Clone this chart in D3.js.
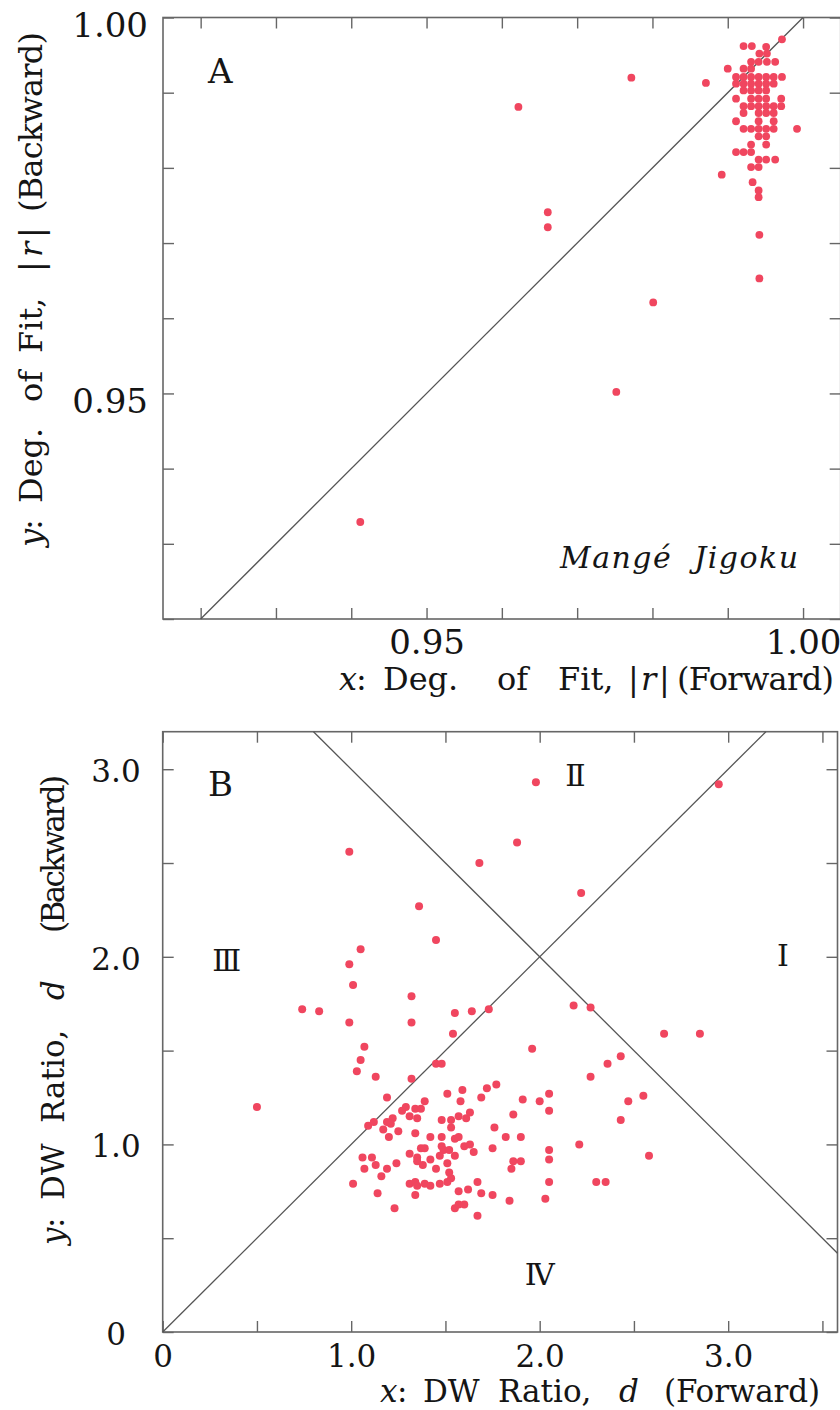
<!DOCTYPE html>
<html>
<head>
<meta charset="utf-8">
<script src="https://cdn.jsdelivr.net/npm/d3@7"></script>
<style>
  body { margin: 0; background: #fff; }
  text { font-family: "DejaVu Serif", "Liberation Serif", serif; fill: #151515; }
</style>
</head>
<body>
<div id="chart"></div>
<script>
// A: degree of fit |r|, forward (x) vs backward (y)
const fitPairs = [
  [0.9972, 0.9971], [0.9921, 0.9962], [0.9932, 0.9962], [0.9951, 0.9961],
  [0.9942, 0.9952], [0.9952, 0.9952],
  [0.9931, 0.9941], [0.9941, 0.9941], [0.9952, 0.9941], [0.9963, 0.9941],
  [0.9900, 0.9932], [0.9921, 0.9932], [0.9931, 0.9932],
  [0.9772, 0.9920], [0.9871, 0.9913],
  [0.9911, 0.9921], [0.9921, 0.9921], [0.9931, 0.9921], [0.9941, 0.9921], [0.9951, 0.9921], [0.9961, 0.9921], [0.9972, 0.9921],
  [0.9911, 0.9912], [0.9921, 0.9912], [0.9931, 0.9912], [0.9941, 0.9912], [0.9951, 0.9912], [0.9961, 0.9912],
  [0.9921, 0.9903], [0.9931, 0.9903], [0.9941, 0.9903], [0.9951, 0.9903],
  [0.9911, 0.9892], [0.9931, 0.9892], [0.9941, 0.9892], [0.9951, 0.9892], [0.9971, 0.9892],
  [0.9921, 0.9882], [0.9931, 0.9882], [0.9941, 0.9882], [0.9951, 0.9882], [0.9961, 0.9882], [0.9971, 0.9882],
  [0.9921, 0.9873], [0.9941, 0.9873], [0.9951, 0.9873], [0.9961, 0.9873],
  [0.9911, 0.9862], [0.9941, 0.9862], [0.9961, 0.9862],
  [0.9921, 0.9852], [0.9931, 0.9852], [0.9941, 0.9852], [0.9951, 0.9852], [0.9961, 0.9852], [0.9992, 0.9852],
  [0.9941, 0.9842], [0.9951, 0.9842],
  [0.9931, 0.9831], [0.9951, 0.9831],
  [0.9911, 0.9821], [0.9921, 0.9821], [0.9931, 0.9821],
  [0.9941, 0.9811], [0.9951, 0.9811], [0.9963, 0.9811],
  [0.9931, 0.9801], [0.9941, 0.9801],
  [0.9892, 0.9791], [0.9933, 0.9781], [0.9941, 0.9770], [0.9941, 0.9761],
  [0.9942, 0.9711], [0.9942, 0.9653],
  [0.9622, 0.9881], [0.9661, 0.9741], [0.9661, 0.9721], [0.9801, 0.9621],
  [0.9752, 0.9502], [0.9412, 0.9329]
];
const fitTicks = [0.92, 0.93, 0.94, 0.95, 0.96, 0.97, 0.98, 0.99, 1.00];
const fitTickLabels = ["", "", "", "0.95", "", "", "", "", "1.00"];

// B: Durbin-Watson ratio d, forward (x) vs backward (y)
const dwPairs = [
  [1.98, 2.93], [2.95, 2.92], [0.99, 2.56], [1.88, 2.61], [1.68, 2.50], [2.22, 2.34],
  [1.36, 2.27], [1.45, 2.09], [1.05, 2.04], [0.99, 1.96], [1.01, 1.85], [1.32, 1.79],
  [0.74, 1.72], [0.83, 1.71], [1.55, 1.70], [1.64, 1.71], [1.73, 1.72], [0.99, 1.65],
  [1.32, 1.65], [1.54, 1.59], [2.18, 1.74], [2.27, 1.73], [2.66, 1.59], [2.85, 1.59],
  [1.96, 1.51], [1.07, 1.52], [1.05, 1.45], [1.03, 1.39], [1.45, 1.43], [1.48, 1.43],
  [2.43, 1.47], [2.36, 1.43], [1.13, 1.36], [1.32, 1.35], [2.27, 1.36], [0.50, 1.20],
  [2.55, 1.26], [2.47, 1.23], [2.43, 1.13], [2.21, 1.00], [2.58, 0.94], [2.30, 0.80],
  [2.35, 0.80],
  [1.19, 1.25], [1.51, 1.27], [1.59, 1.29], [1.58, 1.23], [1.69, 1.25], [1.72, 1.30],
  [1.77, 1.32], [1.91, 1.24], [2.00, 1.23], [2.05, 1.27], [2.05, 1.18], [1.86, 1.16],
  [1.39, 1.23], [1.29, 1.20], [1.27, 1.18], [1.34, 1.19], [1.37, 1.19], [1.31, 1.15],
  [1.35, 1.14], [1.09, 1.10], [1.12, 1.12], [1.19, 1.12], [1.22, 1.14], [1.21, 1.11],
  [1.17, 1.08], [1.20, 1.04], [1.25, 1.07], [1.34, 1.06], [1.48, 1.13], [1.53, 1.13],
  [1.53, 1.09], [1.57, 1.15], [1.61, 1.14], [1.63, 1.17], [1.42, 1.04], [1.48, 1.04],
  [1.55, 1.03], [1.57, 1.04], [1.76, 1.09], [1.82, 1.04], [1.90, 1.04], [1.75, 0.98],
  [2.05, 0.97], [2.05, 0.92], [1.86, 0.91], [1.90, 0.91], [1.85, 0.87], [1.60, 0.99],
  [1.63, 1.00], [1.65, 0.96], [1.48, 0.99], [1.49, 0.97], [1.52, 0.97], [1.55, 0.94],
  [1.37, 0.98], [1.39, 0.98], [1.31, 0.95], [1.35, 0.93], [1.35, 0.91], [1.38, 0.89],
  [1.42, 0.92], [1.47, 0.94], [1.51, 0.90], [1.06, 0.93], [1.11, 0.93], [1.13, 0.89],
  [1.07, 0.87], [1.24, 0.90], [1.19, 0.87], [1.16, 0.83], [1.45, 0.87], [1.52, 0.85],
  [1.53, 0.82], [1.51, 0.80], [1.31, 0.79], [1.34, 0.80], [1.35, 0.78], [1.39, 0.79],
  [1.42, 0.78], [1.47, 0.79], [1.01, 0.79], [1.14, 0.74], [1.34, 0.73], [1.57, 0.75],
  [1.62, 0.76], [1.67, 0.80], [1.69, 0.74], [1.75, 0.73], [1.84, 0.70], [2.03, 0.71],
  [2.05, 0.80], [1.23, 0.66], [1.55, 0.66], [1.57, 0.68], [1.60, 0.68], [1.67, 0.62]
];
const dwTicks = [0, 0.5, 1.0, 1.5, 2.0, 2.5, 3.0, 3.5];
const dwTickLabels = ["0", "", "1.0", "", "2.0", "", "3.0", ""];
const quadrants = ["Ⅰ", "Ⅱ", "Ⅲ", "Ⅳ"];

const red = "#f0465f";
const grey = "#666";

var svg = d3.select("#chart")
    .append("svg")
    .attr("width", 840)
    .attr("height", 1410);

var xA = d3.scaleLinear().domain([0.915, 1.005]).range([163, 840.7]);
var yA = d3.scaleLinear().domain([0.92, 1.00]).range([619, 17.5]);
var xB = d3.scaleLinear().domain([0, 3.58]).range([162.7, 837.5]);
var yB = d3.scaleLinear().domain([0, 3.2]).range([1332, 731.7]);

// frame with inward ticks on all four sides
function drawFrame(x, y, ticks, labels, size, opt) {
    const xt = ticks.filter(v => v >= x.domain()[0] && v <= x.domain()[1]);
    const yt = ticks.filter(v => v >= y.domain()[0] && v <= y.domain()[1]);
    const lab = d => labels[ticks.indexOf(d)];
    const [x0, x1] = x.range(), [y0, y1] = y.range();

    const bottom = svg.append("g")
        .attr("transform", "translate(0," + y0 + ")")
        .call(d3.axisBottom(x).tickValues(xt).tickSizeInner(-11).tickSizeOuter(0)
            .tickPadding(opt.xPad).tickFormat(lab));
    const top = svg.append("g")
        .attr("transform", "translate(0," + y1 + ")")
        .call(d3.axisTop(x).tickValues(xt).tickSizeInner(-11).tickSizeOuter(0).tickFormat(""));
    const left = svg.append("g")
        .attr("transform", "translate(" + x0 + ",0)")
        .call(d3.axisLeft(y).tickValues(yt).tickSizeInner(-11).tickSizeOuter(0).tickFormat(lab));
    const right = svg.append("g")
        .attr("transform", "translate(" + x1 + ",0)")
        .call(d3.axisRight(y).tickValues(yt).tickSizeInner(-11).tickSizeOuter(0).tickFormat(""));

    [bottom, top, left, right].forEach(function(g) {
        g.select(".domain").remove();
        g.selectAll("line").attr("stroke", grey).attr("stroke-width", 1.4);
        g.selectAll("text")
            .style("font-family", "DejaVu Serif")
            .style("font-size", size + "px")
            .attr("fill", "#151515");
    });
    left.selectAll("text")
        .attr("x", opt.yLabelX)
        .attr("dy", opt.yDy)
        .attr("text-anchor", opt.yAnchor);

    svg.append("rect")
        .attr("x", x0).attr("y", y1)
        .attr("width", x1 - x0).attr("height", y0 - y1)
        .attr("fill", "none")
        .attr("stroke", grey)
        .attr("stroke-width", 1.6);
}

// axis title, one piece per word: [text, start, italic, length]
function axisTitle(parts, base, rotated, size) {
    const g = svg.append("g");
    if (rotated) g.attr("transform", "translate(" + base + ",0) rotate(-90)");
    else g.attr("transform", "translate(0," + base + ")");
    parts.forEach(function(p) {
        const t = g.append("text")
            .attr("x", rotated ? -p[1] : p[1])
            .style("font-size", size + "px")
            .text(p[0]);
        if (p[2]) t.style("font-style", "italic");
        if (p[3]) t.attr("textLength", p[3]);
    });
}

// ---------- Panel A ----------
drawFrame(xA, yA, fitTicks, fitTickLabels, 34,
    {xPad: 11, yLabelX: -15, yDy: "0.55em", yAnchor: "end"});

svg.append("line")
    .attr("x1", xA(0.92)).attr("y1", yA(0.92))
    .attr("x2", xA(1.00)).attr("y2", yA(1.00))
    .attr("stroke", "#555").attr("stroke-width", 1.3);

svg.append("g").selectAll("circle")
    .data(fitPairs)
    .enter()
    .append("circle")
        .attr("cx", d => xA(d[0]))
        .attr("cy", d => yA(d[1]))
        .attr("r", 3.9)
        .attr("fill", red);

svg.append("text")
    .attr("x", 208).attr("y", 83)
    .style("font-size", "34px")
    .text("A");

svg.append("text")
    .attr("x", 560).attr("y", 568)
    .attr("textLength", 238)
    .style("font-size", "30px")
    .style("font-style", "italic")
    .style("white-space", "pre")
    .text("Mangé  Jigoku");

axisTitle([["x", 339, true], [":", 356], ["Deg.", 383], ["of", 497], ["Fit,", 558],
    ["|", 628], ["r", 641, true], ["|", 659], ["(Forward)", 677, false, 157]], 690, false, 32);
axisTitle([["y", 547, true], [":", 530], ["Deg.", 503], ["of", 402], ["Fit,", 353],
    ["|", 272], ["r", 257, true], ["|", 238], ["(Backward)", 212, false, 180]], 42, true, 32);

// ---------- Panel B ----------
drawFrame(xB, yB, dwTicks, dwTickLabels, 31,
    {xPad: 13, yLabelX: 116 - 162.7, yDy: "0.4em", yAnchor: "middle"});

svg.append("line")
    .attr("x1", xB(0)).attr("y1", yB(0))
    .attr("x2", xB(3.2)).attr("y2", yB(3.2))
    .attr("stroke", "#555").attr("stroke-width", 1.3);
svg.append("line")
    .attr("x1", xB(0.8)).attr("y1", yB(3.2))
    .attr("x2", xB(3.58)).attr("y2", yB(4 - 3.58))
    .attr("stroke", "#555").attr("stroke-width", 1.3);

svg.append("g").selectAll("circle")
    .data(dwPairs)
    .enter()
    .append("circle")
        .attr("cx", d => xB(d[0]))
        .attr("cy", d => yB(d[1]))
        .attr("r", 4)
        .attr("fill", red);

svg.append("text")
    .attr("x", 208).attr("y", 796)
    .style("font-size", "34px")
    .text("B");

// quadrant labels, placed in data space
const quadPos = [[3.29, 2.01], [2.19, 2.97], [0.34, 1.98], [2.0, 0.31]];
svg.append("g").selectAll("text")
    .data(quadrants)
    .enter()
    .append("text")
        .attr("x", (d, i) => xB(quadPos[i][0]))
        .attr("y", (d, i) => yB(quadPos[i][1]))
        .attr("dy", "0.36em")
        .attr("text-anchor", "middle")
        .style("font-size", "30px")
        .text(d => d);

axisTitle([["x", 380, true], [":", 397], ["DW", 423], ["Ratio,", 498], ["d", 619, true],
    ["(Forward)", 664, false, 156]], 1402, false, 31);
axisTitle([["y", 1245, true], [":", 1228], ["DW", 1200], ["Ratio,", 1123], ["d", 1000, true],
    ["(Backward)", 933, false, 158]], 64, true, 31);
</script>
</body>
</html>
